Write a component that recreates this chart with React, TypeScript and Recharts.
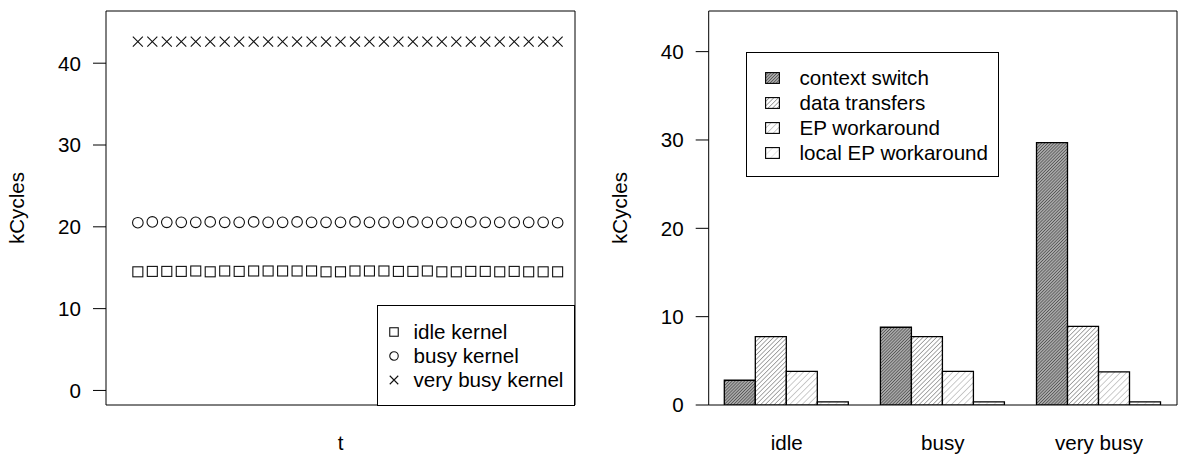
import React from 'react';
import { ScatterChart, Scatter, BarChart, Bar, XAxis, YAxis, Legend, ReferenceArea } from 'recharts';

const FONT = '"Liberation Sans", Arial, Helvetica, sans-serif';
const FS = 20.6;

// left panel: cost per measurement over time
const timeSteps = [1, 2, 3, 4, 5, 6, 7, 8, 9, 10, 11, 12, 13, 14, 15, 16, 17, 18, 19, 20, 21, 22, 23, 24, 25, 26, 27, 28, 29, 30];
const idleKernel = [14.5, 14.55, 14.55, 14.55, 14.6, 14.5, 14.6, 14.55, 14.6, 14.6, 14.6, 14.6, 14.6, 14.5, 14.5, 14.6, 14.6, 14.6, 14.55, 14.55, 14.6, 14.5, 14.5, 14.55, 14.55, 14.5, 14.55, 14.5, 14.5, 14.5];
const busyKernel = [20.5, 20.6, 20.55, 20.55, 20.55, 20.6, 20.55, 20.55, 20.6, 20.55, 20.55, 20.6, 20.55, 20.55, 20.55, 20.6, 20.55, 20.55, 20.55, 20.6, 20.55, 20.55, 20.55, 20.6, 20.55, 20.55, 20.55, 20.55, 20.55, 20.5];
const veryBusyKernel = [42.65, 42.65, 42.65, 42.65, 42.65, 42.65, 42.65, 42.65, 42.65, 42.65, 42.65, 42.65, 42.65, 42.65, 42.65, 42.65, 42.65, 42.65, 42.65, 42.65, 42.65, 42.65, 42.65, 42.65, 42.65, 42.65, 42.65, 42.65, 42.65, 42.65];
const kernelNames = ['idle kernel', 'busy kernel', 'very busy kernel'];

// right panel: breakdown per load level
const loadLevels = ['idle', 'busy', 'very busy'];
const contextSwitch = [2.8, 8.8, 29.7];
const dataTransfers = [7.75, 7.75, 8.9];
const epWorkaround = [3.8, 3.8, 3.75];
const localEpWorkaround = [0.35, 0.35, 0.35];
const costNames = ['context switch', 'data transfers', 'EP workaround', 'local EP workaround'];
const costKeys = ['contextSwitch', 'dataTransfers', 'epWorkaround', 'localEpWorkaround'];

const yTicks = [0, 10, 20, 30, 40];

const toPoints = (vals: number[]) => vals.map((v, i) => ({ t: timeSteps[i], v }));

const barData = loadLevels.map((level, i) => ({
  level,
  contextSwitch: contextSwitch[i],
  dataTransfers: dataTransfers[i],
  epWorkaround: epWorkaround[i],
  localEpWorkaround: localEpWorkaround[i],
}));

// hatch styles, darkest first
const hatches = [
  { id: 'hatch-cs', gap: 2.2, color: '#2e2e2e', bg: '#a8a8a8', width: 1 },
  { id: 'hatch-dt', gap: 3.2, color: '#555', bg: '#fff', width: 1 },
  { id: 'hatch-ep', gap: 4.4, color: '#999', bg: '#fff', width: 1 },
  { id: 'hatch-lep', gap: 5.6, color: '#ccc', bg: '#fff', width: 1 },
];

const INK = '#111';

const SquareMark = ({ x0, y0, d = 10 }: any) => (
  <rect x={x0 - d / 2} y={y0 - d / 2} width={d} height={d} fill="none" stroke={INK} strokeWidth={1.1} />
);
const CircleMark = ({ x0, y0, d = 10.6 }: any) => (
  <circle cx={x0} cy={y0} r={d / 2} fill="none" stroke={INK} strokeWidth={1.1} />
);
const CrossMark = ({ x0, y0, d = 10 }: any) => {
  const h = d / 2;
  return (
    <path
      d={`M${x0 - h},${y0 - h}L${x0 + h},${y0 + h}M${x0 + h},${y0 - h}L${x0 - h},${y0 + h}`}
      stroke={INK}
      strokeWidth={1.1}
      fill="none"
    />
  );
};
const markShapes = [SquareMark, CircleMark, CrossMark];

const tickStyle = { fill: '#000', fontSize: FS, fontFamily: FONT };

const yLabel = (dx: number) => (props: any) => {
  const vb = props.viewBox;
  const x = vb.x + dx;
  const y = vb.y + vb.height / 2;
  return (
    <text x={x} y={y} transform={`rotate(-90 ${x} ${y})`} textAnchor="middle" fill="#000" fontSize={FS} fontFamily={FONT}>
      kCycles
    </text>
  );
};

const KernelLegend = () => (
  <div
    style={{
      boxSizing: 'border-box', width: '100%', height: '100%', border: '1px solid #000',
      background: '#fff', paddingTop: 14, fontFamily: FONT, fontSize: FS, color: '#000',
    }}
  >
    {kernelNames.map((name, i) => {
      const Mark = markShapes[i];
      return (
        <div key={name} style={{ display: 'flex', alignItems: 'center', height: 24.2 }}>
          <svg width={12} height={12} style={{ marginLeft: 9.5, flex: 'none' }}>
            <Mark x0={6} y0={6} d={8.5} />
          </svg>
          <span style={{ marginLeft: 14, lineHeight: '24px', whiteSpace: 'nowrap' }}>{name}</span>
        </div>
      );
    })}
  </div>
);

const CostLegend = () => (
  <div
    style={{
      boxSizing: 'border-box', width: '100%', height: '100%', border: '1px solid #000',
      background: '#fff', paddingTop: 12, fontFamily: FONT, fontSize: FS, color: '#000',
    }}
  >
    {costNames.map((name, i) => (
      <div key={name} style={{ display: 'flex', alignItems: 'center', height: 25 }}>
        <svg width={15} height={12} style={{ marginLeft: 18, flex: 'none' }}>
          <rect x={0.6} y={0.6} width={13.8} height={10.8} fill={`url(#${hatches[i].id})`} stroke="#000" strokeWidth={1.1} />
        </svg>
        <span style={{ marginLeft: 19.5, lineHeight: '25px', whiteSpace: 'nowrap' }}>{name}</span>
      </div>
    ))}
  </div>
);

const KernelChart = () => (
  <ScatterChart width={590} height={455} margin={{ top: 11, right: 15, bottom: 0, left: 0 }}>
    <XAxis
      type="number"
      dataKey="t"
      domain={[-1.2, 31.2]}
      allowDataOverflow
      tick={false}
      tickLine={false}
      height={50}
      axisLine={false}
      label={(props: any) => (
        <text
          x={props.viewBox.x + props.viewBox.width / 2}
          y={props.viewBox.y + 45}
          textAnchor="middle"
          fill="#000"
          fontSize={FS}
          fontFamily={FONT}
        >
          t
        </text>
      )}
    />
    <YAxis
      type="number"
      dataKey="v"
      domain={[-1.78, 46.38]}
      allowDataOverflow
      ticks={yTicks}
      interval={0}
      width={106}
      tickSize={13}
      tickMargin={12}
      tick={tickStyle}
      tickLine={{ stroke: '#000' }}
      axisLine={false}
      label={yLabel(24)}
    />
    <ReferenceArea y1={-1.78} y2={46.38} fill="none" stroke="#000" strokeWidth={1} ifOverflow="visible" />
    <Scatter name={kernelNames[0]} data={toPoints(idleKernel)} shape={(p: any) => <SquareMark x0={p.cx} y0={p.cy} />} isAnimationActive={false} />
    <Scatter name={kernelNames[1]} data={toPoints(busyKernel)} shape={(p: any) => <CircleMark x0={p.cx} y0={p.cy} />} isAnimationActive={false} />
    <Scatter name={kernelNames[2]} data={toPoints(veryBusyKernel)} shape={(p: any) => <CrossMark x0={p.cx} y0={p.cy} />} isAnimationActive={false} />
    <Legend
      layout="horizontal"
      verticalAlign="middle"
      align="center"
      content={() => <KernelLegend />}
      wrapperStyle={{ left: 377, top: 305, right: 'auto', bottom: 'auto', width: 198, height: 100.5 }}
    />
  </ScatterChart>
);

const CostChart = () => (
  <BarChart
    width={589}
    height={455}
    data={barData}
    margin={{ top: 11, right: 2, bottom: 0, left: 0 }}
    barGap={0}
    barCategoryGap="10%"
  >
    <defs>
      {hatches.map((h) => (
        <pattern key={h.id} id={h.id} patternUnits="userSpaceOnUse" width={h.gap} height={h.gap} patternTransform="rotate(45)">
          <rect width={h.gap} height={h.gap} fill={h.bg} />
          <line x1={0} y1={0} x2={0} y2={h.gap} stroke={h.color} strokeWidth={h.width} />
        </pattern>
      ))}
    </defs>
    <XAxis
      dataKey="level"
      tickLine={false}
      tickSize={0}
      tickMargin={30}
      height={50}
      tick={tickStyle}
      axisLine={false}
      interval={0}
    />
    <YAxis
      type="number"
      domain={[0, 44.6]}
      allowDataOverflow
      ticks={yTicks}
      interval={0}
      width={118.7}
      tickSize={13}
      tickMargin={12}
      tick={tickStyle}
      tickLine={{ stroke: '#000' }}
      axisLine={false}
      label={yLabel(36.7)}
    />
    <ReferenceArea y1={0} y2={44.6} fill="none" stroke="#000" strokeWidth={1} ifOverflow="visible" />
    {costKeys.map((key, i) => (
      <Bar
        key={key}
        dataKey={key}
        name={costNames[i]}
        fill={`url(#${hatches[i].id})`}
        stroke="#000"
        strokeWidth={1.3}
        isAnimationActive={false}
      />
    ))}
    <Legend
      layout="horizontal"
      verticalAlign="middle"
      align="center"
      content={() => <CostLegend />}
      wrapperStyle={{ left: 156, top: 52.3, right: 'auto', bottom: 'auto', width: 253, height: 124.4 }}
    />
  </BarChart>
);

export default function App() {
  return (
    <div style={{ position: 'absolute', left: 0, top: 0, width: 1179, height: 455, background: '#fff' }}>
      <div style={{ position: 'absolute', left: 0, top: 0 }}>
        <KernelChart />
      </div>
      <div style={{ position: 'absolute', left: 590, top: 0 }}>
        <CostChart />
      </div>
    </div>
  );
}
